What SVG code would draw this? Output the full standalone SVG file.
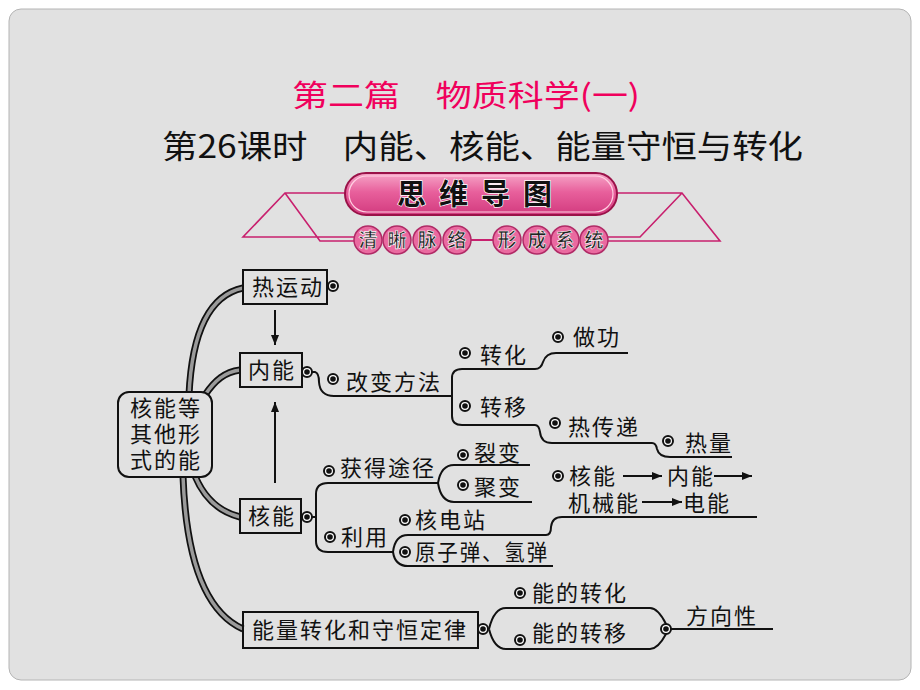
<svg xmlns="http://www.w3.org/2000/svg" width="920" height="690" viewBox="0 0 920 690">
<defs>
<linearGradient id="pill" x1="0" y1="0" x2="0" y2="1">
<stop offset="0" stop-color="#f6a6c8"/>
<stop offset="0.45" stop-color="#e8609c"/>
<stop offset="1" stop-color="#d23a7e"/>
</linearGradient>
<marker id="ah" viewBox="0 0 10 8" refX="10" refY="4" markerWidth="11" markerHeight="8" markerUnits="userSpaceOnUse" orient="auto">
<path d="M0,0 L10,4 L0,8 Z" fill="#111"/>
</marker>
</defs>
<style>
.t{font-family:"Noto Sans CJK SC","Noto Sans",sans-serif;font-size:22px;letter-spacing:2px;fill:#111}
.box{fill:none;stroke:#111;stroke-width:2}
.ln{fill:none;stroke:#111;stroke-width:2}
.bo{fill:#111;stroke:none}
.bandO{fill:none;stroke:#111;stroke-width:7;stroke-linecap:butt}
.bandI{fill:none;stroke:#9a9a9a;stroke-width:3.5;stroke-linecap:butt}
.mag{fill:none;stroke:#c8206e;stroke-width:1.6}
.circ{fill:#ea6aa0;stroke:#b02a66;stroke-width:1.5}
.st{font-family:"Noto Sans CJK SC",sans-serif;font-size:19px;font-weight:bold;fill:#222;stroke:#fff;stroke-width:0.6;text-anchor:middle}
</style>
<rect x="0" y="0" width="920" height="690" fill="#ffffff"/>
<rect x="9" y="9" width="902" height="671" rx="12" fill="#e1e1e1" stroke="#b4b4b4" stroke-width="1"/>

<g id="title">
<text x="292" y="106" textLength="348" lengthAdjust="spacingAndGlyphs" font-family="Noto Sans CJK SC, sans-serif" font-size="30" fill="#f0005c">第二篇　物质科学(一)</text>
<text x="162" y="158" textLength="641" lengthAdjust="spacingAndGlyphs" font-family="Noto Sans CJK SC, sans-serif" font-size="32" fill="#111">第26课时　内能、核能、能量守恒与转化</text>
</g>

<g id="banner">
<path class="mag" d="M345,193 H285 L243,237 H356 M285,193 L320,241 H356"/>
<path class="mag" d="M617,193 H682 L720,241 H605 M682,193 L640,237 H605"/>
<rect x="345" y="173" width="272" height="42" rx="21" fill="url(#pill)" stroke="#9a1248" stroke-width="2"/>
<rect x="349" y="176" width="264" height="36" rx="18" fill="none" stroke="#ffd0e2" stroke-width="1.2"/>
<text x="481" y="205" text-anchor="middle" font-family="Noto Sans CJK SC, sans-serif" font-size="29" font-weight="bold" letter-spacing="13" fill="#111" stroke="#fff" stroke-width="1.4" paint-order="stroke">思维导图</text>
<line x1="470" y1="240" x2="494" y2="240" stroke="#c8206e" stroke-width="2"/>
<circle class="circ" cx="368" cy="240" r="14"/>
<circle class="circ" cx="397" cy="240" r="14"/>
<circle class="circ" cx="427" cy="240" r="14"/>
<circle class="circ" cx="457" cy="240" r="14"/>
<circle class="circ" cx="507" cy="240" r="14"/>
<circle class="circ" cx="537" cy="240" r="14"/>
<circle class="circ" cx="565" cy="240" r="14"/>
<circle class="circ" cx="594" cy="240" r="14"/>
<text class="st" x="368" y="247">清</text>
<text class="st" x="397" y="247">晰</text>
<text class="st" x="427" y="247">脉</text>
<text class="st" x="457" y="247">络</text>
<text class="st" x="507" y="247">形</text>
<text class="st" x="537" y="247">成</text>
<text class="st" x="565" y="247">系</text>
<text class="st" x="594" y="247">统</text>
</g>

<g id="connectors">
<path class="bandO" d="M189,395 C192,330 210,295 243,288"/>
<path class="bandI" d="M189,395 C192,330 210,295 243,288"/>
<path class="bandO" d="M205,395 C215,380 225,372 240,370"/>
<path class="bandI" d="M205,395 C215,380 225,372 240,370"/>
<path class="bandO" d="M195,476 C205,500 220,512 240,517"/>
<path class="bandI" d="M195,476 C205,500 220,512 240,517"/>
<path class="bandO" d="M183,476 C186,560 205,612 243,629"/>
<path class="bandI" d="M183,476 C186,560 205,612 243,629"/>
<line class="ln" x1="275" y1="310" x2="275" y2="345" marker-end="url(#ah)"/>
<line class="ln" x1="275" y1="483" x2="275" y2="402" marker-end="url(#ah)"/>
<path class="ln" d="M312,372 L315,372 Q319,373 319,382 Q320,396 334,396 L452,396"/>
<path class="ln" d="M452,396 L452,378 Q452,369 462,369 L535,369 Q541,369 543,362 Q546,353 556,353 L628,353"/>
<path class="ln" d="M452,396 L452,416 Q452,425 462,425 L535,425 Q539,425 540,432 Q541,443 552,443 L652,443 Q656,443 657,449 Q659,457 670,457 L732,457"/>
<path class="ln" d="M312,517 L316,517 M316,517 L316,494 Q316,483 328,483 L438,483 M316,517 L316,541 Q316,552 328,552 L393,552"/>
<path class="ln" d="M438,483 Q441,465 454,465 L530,465 M438,483 Q441,502 454,502 L532,502"/>
<path class="ln" d="M393,552 Q395,535 408,535 L546,535 Q551,535 551,527 Q552,517 562,517 L757,517 M393,552 Q395,566 408,566 L553,566"/>
<line class="ln" x1="623" y1="476" x2="662" y2="476" marker-end="url(#ah)"/>
<line class="ln" x1="714" y1="476" x2="752" y2="476" marker-end="url(#ah)"/>
<line class="ln" x1="642" y1="502" x2="682" y2="502" marker-end="url(#ah)"/>
<path class="ln" d="M489,629 Q494,608 506,608 L650,608 Q658,608 666,624 M489,629 Q494,649 506,649 L650,649 Q658,649 666,634"/>
<line class="ln" x1="671" y1="629" x2="773" y2="629"/>
</g>

<g id="bullets">
<g class="ln">
<circle cx="333" cy="286" r="5" fill="#fff"/>
<circle cx="307" cy="372" r="5" fill="#fff"/>
<circle cx="333" cy="379" r="5" fill="#fff"/>
<circle cx="465" cy="353" r="5" fill="#fff"/>
<circle cx="558" cy="337" r="5" fill="#fff"/>
<circle cx="465" cy="406" r="5" fill="#fff"/>
<circle cx="555" cy="423" r="5" fill="#fff"/>
<circle cx="668" cy="441" r="5" fill="#fff"/>
<circle cx="307" cy="517" r="5" fill="#fff"/>
<circle cx="329" cy="471" r="5" fill="#fff"/>
<circle cx="463" cy="455" r="5" fill="#fff"/>
<circle cx="463" cy="485" r="5" fill="#fff"/>
<circle cx="330" cy="537" r="5" fill="#fff"/>
<circle cx="405" cy="520" r="5" fill="#fff"/>
<circle cx="405" cy="552" r="5" fill="#fff"/>
<circle cx="558" cy="476" r="5" fill="#fff"/>
<circle cx="483" cy="629" r="5" fill="#fff"/>
<circle cx="666" cy="629" r="5" fill="#fff"/>
<circle cx="520" cy="593" r="5" fill="#fff"/>
<circle cx="520" cy="640" r="5" fill="#fff"/>
</g>
<g class="bo">
<circle cx="333" cy="286" r="2.8"/>
<circle cx="307" cy="372" r="2.8"/>
<circle cx="333" cy="379" r="2.8"/>
<circle cx="465" cy="353" r="2.8"/>
<circle cx="558" cy="337" r="2.8"/>
<circle cx="465" cy="406" r="2.8"/>
<circle cx="555" cy="423" r="2.8"/>
<circle cx="668" cy="441" r="2.8"/>
<circle cx="307" cy="517" r="2.8"/>
<circle cx="329" cy="471" r="2.8"/>
<circle cx="463" cy="455" r="2.8"/>
<circle cx="463" cy="485" r="2.8"/>
<circle cx="330" cy="537" r="2.8"/>
<circle cx="405" cy="520" r="2.8"/>
<circle cx="405" cy="552" r="2.8"/>
<circle cx="558" cy="476" r="2.8"/>
<circle cx="483" cy="629" r="2.8"/>
<circle cx="666" cy="629" r="2.8"/>
<circle cx="520" cy="593" r="2.8"/>
<circle cx="520" cy="640" r="2.8"/>
</g>
</g>

<g id="center">
<rect x="118" y="392" width="94" height="85" rx="11" fill="#e1e1e1" stroke="#111" stroke-width="2"/>
<text class="t" x="166" y="416" text-anchor="middle" letter-spacing="1" font-size="21">核能等</text>
<text class="t" x="166" y="442" text-anchor="middle" letter-spacing="1" font-size="21">其他形</text>
<text class="t" x="166" y="468" text-anchor="middle" letter-spacing="1" font-size="21">式的能</text>
</g>
<g id="n-reyundong"><rect class="box" x="243" y="270" width="84" height="34"/><text class="t" x="252" y="295">热运动</text></g>
<g id="n-neineng"><rect class="box" x="240" y="353" width="62" height="34"/><text class="t" x="248" y="378">内能</text></g>
<g id="n-heneng"><rect class="box" x="240" y="499" width="61" height="34"/><text class="t" x="248" y="524">核能</text></g>
<g id="n-law"><rect class="box" x="243" y="612" width="235" height="36"/><text class="t" x="252" y="638">能量转化和守恒定律</text></g>

<g id="labels">
<text class="t" x="346" y="390">改变方法</text>
<text class="t" x="480" y="363">转化</text>
<text class="t" x="573" y="345">做功</text>
<text class="t" x="480" y="415">转移</text>
<text class="t" x="568" y="435">热传递</text>
<text class="t" x="685" y="451">热量</text>
<text class="t" x="340" y="476">获得途径</text>
<text class="t" x="474" y="461">裂变</text>
<text class="t" x="474" y="495">聚变</text>
<text class="t" x="341" y="545">利用</text>
<text class="t" x="415" y="528">核电站</text>
<text class="t" x="415" y="560" textLength="134" lengthAdjust="spacingAndGlyphs">原子弹、氢弹</text>
<text class="t" x="569" y="484" font-size="21">核能</text>
<text class="t" x="667" y="484" font-size="21">内能</text>
<text class="t" x="568" y="511" font-size="21">机械能</text>
<text class="t" x="683" y="511" font-size="21">电能</text>
<text class="t" x="686" y="624">方向性</text>
<text class="t" x="532" y="601">能的转化</text>
<text class="t" x="532" y="641">能的转移</text>
</g>
</svg>
